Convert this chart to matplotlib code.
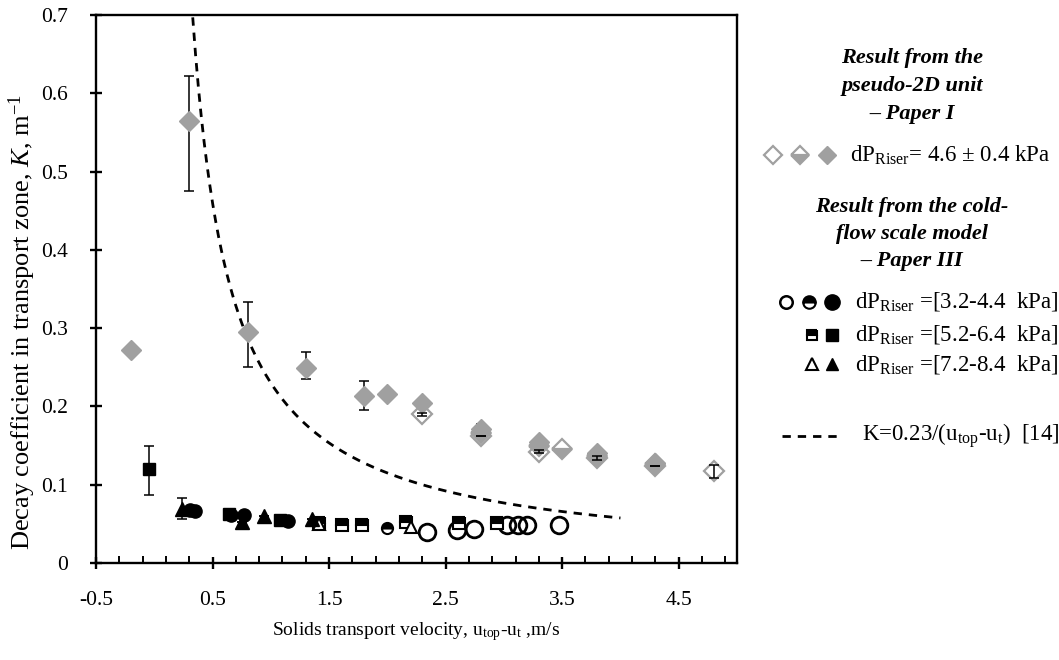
import numpy as np
import matplotlib
matplotlib.use("Agg")
import matplotlib.pyplot as plt
from matplotlib.lines import Line2D

plt.rcParams['font.family'] = ['Liberation Serif', 'DejaVu Serif']
plt.rcParams['mathtext.fontset'] = 'custom'
plt.rcParams['mathtext.rm'] = 'Liberation Serif'
plt.rcParams['mathtext.it'] = 'Liberation Serif:italic'

# Pseudo-2D unit (Paper I) - grey diamonds
p1_full_x = [-0.2, 0.3, 0.8, 1.3, 1.8, 2.0, 2.3, 2.8, 3.3, 3.8, 4.3]
p1_full_y = [0.272, 0.564, 0.295, 0.249, 0.213, 0.216, 0.204, 0.171, 0.155, 0.141, 0.128]
p1_full_lo = [0.0, 0.089, 0.045, 0.014, 0.018, 0.0, 0.0, 0.007, 0.0, 0.0, 0.0]
p1_full_hi = [0.0, 0.058, 0.038, 0.021, 0.020, 0.0, 0.0, 0.007, 0.0, 0.0, 0.0]

p1_half_x = [2.8, 3.3, 3.5, 3.8, 4.3]
p1_half_y = [0.166, 0.150, 0.146, 0.137, 0.127]

p1_open_x = [2.3, 2.8, 3.3, 3.8, 4.3, 4.8]
p1_open_y = [0.190, 0.162, 0.142, 0.134, 0.124, 0.117]
p1_open_err = [0.002, 0.0, 0.002, 0.003, 0.0, 0.008]

# Cold-flow scale model (Paper III)
c_open_x = [2.34, 2.60, 2.74, 3.03, 3.12, 3.20, 3.475]
c_open_y = [0.040, 0.042, 0.044, 0.0485, 0.0485, 0.0485, 0.0485]
c_half_x = [2.0]
c_half_y = [0.045]
c_full_x = [0.31, 0.35, 0.66, 0.77, 1.15]
c_full_y = [0.068, 0.067, 0.061, 0.061, 0.054]

s_half_x = [1.41, 1.61, 1.785, 2.157, 2.615, 2.945]
s_half_y = [0.0515, 0.048, 0.048, 0.053, 0.0505, 0.0505]
s_full_x = [-0.045, 0.64, 1.08]
s_full_y = [0.120, 0.063, 0.055]
s_full_lo = [0.033, 0.0, 0.0]
s_full_hi = [0.030, 0.0, 0.0]

t_open_x = [1.41, 2.20]
t_open_y = [0.050, 0.046]
t_full_x = [0.237, 0.75, 0.944, 1.355]
t_full_y = [0.0686, 0.053, 0.060, 0.056]
t_full_lo = [0.013, 0.0, 0.0, 0.0]
t_full_hi = [0.015, 0.0, 0.0, 0.0]

# Correlation K = 0.23/(u_top - u_t)
corr_coef = 0.23
corr_x = np.linspace(0.33, 4.0, 300)

x_ticks = [-0.5, 0.5, 1.5, 2.5, 3.5, 4.5]
y_ticks = [0, 0.1, 0.2, 0.3, 0.4, 0.5, 0.6, 0.7]
y_ticklabels = ['0', '0.1', '0.2', '0.3', '0.4', '0.5', '0.6', '0.7']

GREY = '#a0a0a0'
DASH = (0, (3, 2.5))
W, H = 1059, 660
fig = plt.figure(figsize=(W / 100, H / 100), dpi=100)
ax = fig.add_axes([96 / W, (H - 563) / H, (737 - 96) / W, (563 - 15) / H])

ax.plot(corr_x, corr_coef / corr_x, ls=DASH, color='black', lw=2.0, zorder=2)

# grey diamonds
ax.errorbar(p1_full_x, p1_full_y, yerr=[p1_full_lo, p1_full_hi], fmt='none',
            ecolor='black', elinewidth=1.1, capsize=3.5, capthick=1.1, zorder=3)
ax.errorbar(p1_open_x, p1_open_y, yerr=p1_open_err, fmt='none',
            ecolor='black', elinewidth=1.1, capsize=3.5, capthick=1.1, zorder=5)
ax.plot(p1_open_x, p1_open_y, 'D', ms=10.5, mfc='white', mec=GREY, mew=1.6, ls='none', zorder=3)
ax.plot(p1_half_x, p1_half_y, 'D', ms=10.5, fillstyle='bottom', mfc=GREY, mfcalt='white',
        mec=GREY, mew=1.6, ls='none', zorder=4)
ax.plot(p1_full_x, p1_full_y, 'D', ms=10.5, mfc=GREY, mec=GREY, mew=1.0, ls='none', zorder=4)

# black markers
ax.errorbar(s_full_x, s_full_y, yerr=[s_full_lo, s_full_hi], fmt='none',
            ecolor='black', elinewidth=1.1, capsize=3.5, capthick=1.1, zorder=5)
ax.errorbar(t_full_x, t_full_y, yerr=[t_full_lo, t_full_hi], fmt='none',
            ecolor='black', elinewidth=1.1, capsize=3.5, capthick=1.1, zorder=5)
ax.plot(c_open_x, c_open_y, 'o', ms=12, mfc='none', mec='black', mew=2.0, ls='none', zorder=6)
ax.plot(c_half_x, c_half_y, 'o', ms=8, fillstyle='top', mfc='black', mfcalt='white',
        mec='black', mew=1.5, ls='none', zorder=6)
ax.plot(c_full_x, c_full_y, 'o', ms=9.5, mfc='black', mec='black', ls='none', zorder=6)
ax.plot(s_half_x, s_half_y, 's', ms=8, fillstyle='top', mfc='black', mfcalt='white',
        mec='black', mew=1.5, ls='none', zorder=6)
ax.plot(s_full_x, s_full_y, 's', ms=8.5, mfc='black', mec='black', ls='none', zorder=6)
ax.plot(t_open_x, t_open_y, '^', ms=9, mfc='white', mec='black', mew=1.5, ls='none', zorder=6)
ax.plot(t_full_x, t_full_y, '^', ms=9.5, mfc='black', mec='black', ls='none', zorder=6)

ax.set_xlim(-0.5, 5.0)
ax.set_ylim(0, 0.7)
ax.set_xticks(x_ticks)
ax.set_xticklabels([f'{v:g}' for v in x_ticks])
ax.set_xticks(np.arange(-0.5, 5.01, 0.2), minor=True)
ax.set_yticks(y_ticks)
ax.set_yticklabels(y_ticklabels)
for s in ax.spines.values():
    s.set_linewidth(1.7)
ax.tick_params(axis='both', which='major', direction='inout', length=9, width=1.7,
               labelsize=15.5)
ax.tick_params(axis='x', which='major', pad=16)
ax.tick_params(axis='y', which='major', pad=16)
ax.tick_params(axis='x', which='minor', direction='in', length=5, width=1.4)
ax.tick_params(top=False, right=False)

fig.text(22 / W, 1 - 322 / H, 'Decay coefficient in transport zone, $K$, m$^{-1}$',
         rotation=90, ha='center', va='center', fontsize=19)
fig.text(416 / W, 1 - 632 / H, 'Solids transport velocity, u$_{\\mathrm{top}}$-u$_{\\mathrm{t}}$ ,m/s',
         ha='center', va='center', fontsize=14)

# key panel
def fx(px):
    return px / W

def fy(py):
    return 1 - py / H

title_kw = dict(ha='center', va='center', fontsize=16, fontweight='bold', fontstyle='italic')
fig.text(fx(912), fy(58), 'Result from the', **title_kw)
fig.text(fx(912), fy(86), 'pseudo-2D unit', **title_kw)
fig.text(fx(912), fy(114), '– Paper I', **title_kw)
fig.text(fx(912), fy(207), 'Result from the cold-', **title_kw)
fig.text(fx(912), fy(234), 'flow scale model', **title_kw)
fig.text(fx(912), fy(261), '– Paper III', **title_kw)

def key(px, py, **kw):
    fig.add_artist(Line2D([fx(px)], [fy(py)], transform=fig.transFigure, ls='none', **kw))

row_kw = dict(ha='left', va='center', fontsize=16.5)
key(773, 155, marker='D', ms=9.5, mfc='white', mec=GREY, mew=1.6)
key(800, 155, marker='D', ms=9.5, fillstyle='bottom', mfc=GREY, mfcalt='white', mec=GREY, mew=1.6)
key(827, 155, marker='D', ms=9.5, mfc=GREY, mec=GREY)
fig.text(fx(850), fy(155), 'dP$_{\\mathrm{Riser}}$= 4.6 ± 0.4 kPa', **row_kw)

key(786, 302, marker='o', ms=9, mfc='white', mec='black', mew=1.8)
key(809, 302, marker='o', ms=9, fillstyle='top', mfc='black', mfcalt='white', mec='black', mew=1.5)
key(832, 302, marker='o', ms=11, mfc='black', mec='black')
fig.text(fx(855), fy(302), 'dP$_{\\mathrm{Riser}}$ =[3.2-4.4  kPa]', **row_kw)

key(812, 335, marker='s', ms=7, fillstyle='top', mfc='black', mfcalt='white', mec='black', mew=1.5)
key(832, 335, marker='s', ms=8, mfc='black', mec='black')
fig.text(fx(855), fy(335), 'dP$_{\\mathrm{Riser}}$ =[5.2-6.4  kPa]', **row_kw)

key(812, 364, marker='^', ms=8, mfc='white', mec='black', mew=1.5)
key(832, 364, marker='^', ms=9, mfc='black', mec='black')
fig.text(fx(855), fy(364), 'dP$_{\\mathrm{Riser}}$ =[7.2-8.4  kPa]', **row_kw)

fig.add_artist(Line2D([fx(782), fx(838)], [fy(436), fy(436)], transform=fig.transFigure,
                      color='black', lw=2.0, ls=DASH))
fig.text(fx(862), fy(436), 'K=0.23/(u$_{\\mathrm{top}}$-u$_{\\mathrm{t}}$)  [14]', **row_kw)

fig.savefig('out.png', dpi=100)
